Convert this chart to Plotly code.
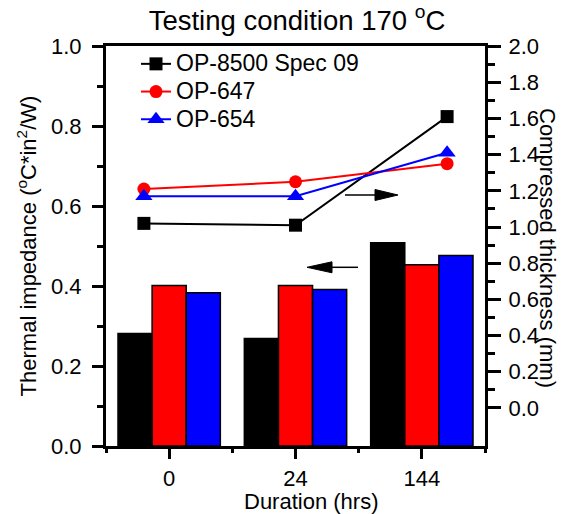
import plotly.graph_objects as go

# ---------------- data ----------------
durations = ["0", "24", "144"]
series_names = ["OP-8500 Spec 09", "OP-647", "OP-654"]
series_colors = ["#000000", "#FF0000", "#0000FF"]
series_symbols = ["square", "circle", "triangle-up"]

impedance_8500 = [0.281, 0.269, 0.508]
impedance_647 = [0.401, 0.401, 0.453]
impedance_654 = [0.383, 0.391, 0.476]

thickness_8500 = [1.02, 1.01, 1.61]
thickness_647 = [1.21, 1.25, 1.35]
thickness_654 = [1.17, 1.17, 1.41]

left_ticks = [0.0, 0.2, 0.4, 0.6, 0.8, 1.0]
left_minor = [0.1, 0.3, 0.5, 0.7, 0.9]
right_ticks = [0.0, 0.2, 0.4, 0.6, 0.8, 1.0, 1.2, 1.4, 1.6, 1.8, 2.0]
right_minor = [0.1, 0.3, 0.5, 0.7, 0.9, 1.1, 1.3, 1.5, 1.7, 1.9]

impedances = [impedance_8500, impedance_647, impedance_654]
thicknesses = [thickness_8500, thickness_647, thickness_654]

# ---------------- layout geometry (page pixels) ----------------
W, H = 564, 514
L, R, T, B = 106, 485, 46, 446   # plot area
FONT = "Arial, 'Liberation Sans', sans-serif"


def px(xp):
    return (xp - L) / (R - L)


def py(yp):
    return (B - yp) / (B - T)


xpos = list(range(len(durations)))
minor_x = [i - 0.5 for i in xpos] + [xpos[-1] + 0.5]

fig = go.Figure()

for name, col, vals in zip(series_names, series_colors, impedances):
    fig.add_trace(go.Bar(
        x=xpos, y=vals, name=name, showlegend=False,
        marker=dict(color=col, line=dict(color="#000000", width=1.5)),
        xaxis="x", yaxis="y",
    ))

for name, col, sym, vals in zip(series_names, series_colors, series_symbols, thicknesses):
    fig.add_trace(go.Scatter(
        x=xpos, y=vals,
        name=f'<span style="font-size:23px">{name}</span>',
        mode="lines+markers",
        line=dict(color=col, width=2),
        marker=dict(symbol=sym, size=13 if sym != "triangle-up" else 15, color=col),
        xaxis="x2", yaxis="y2",
    ))

axis_common = dict(
    showline=True, linecolor="#000000", linewidth=3,
    ticks="outside", tickcolor="#000000", tickwidth=2.5,
    showgrid=False, zeroline=False,
    tickfont=dict(family=FONT, size=22, color="#000000"),
)

fig.update_layout(
    width=W, height=H,
    margin=dict(l=L, r=W - R, t=T, b=H - B, pad=0),
    paper_bgcolor="white", plot_bgcolor="white",
    font=dict(family=FONT, size=22, color="#000000"),
    barmode="group", bargap=0.19, bargroupgap=0,
    title=dict(
        text="Testing condition 170 <sup>o</sup>C",
        x=297 / W, xanchor="center",
        y=1 - 20 / H, yanchor="middle",
        font=dict(family=FONT, size=27.5, color="#000000"),
    ),
    xaxis=dict(
        axis_common,
        range=[-0.5, len(durations) - 0.5],
        tickmode="array", tickvals=xpos, ticktext=durations, ticklen=10,
        ticklabelstandoff=1,
        mirror=True,
        minor=dict(tickmode="array", tickvals=minor_x, ticklen=4,
                   tickwidth=2.5, tickcolor="#000000", ticks="outside"),
    ),
    xaxis2=dict(
        overlaying="x", range=[-0.25, len(durations) - 0.75],
        visible=False,
    ),
    yaxis=dict(
        axis_common,
        range=[0, 1.0],
        tickmode="array", tickvals=left_ticks, tickformat=".1f", ticklen=11,
        ticklabelstandoff=6,
        minor=dict(tickmode="array", tickvals=left_minor, ticklen=6,
                   tickwidth=2.5, tickcolor="#000000", ticks="outside"),
        title=dict(text="Thermal impedance (<sup>o</sup>C*in<sup>2</sup>/W)",
                   font=dict(family=FONT, size=22, color="#000000"), standoff=9),
    ),
    yaxis2=dict(
        axis_common,
        overlaying="y", side="right",
        range=[-0.21, 2.0],
        tickmode="array", tickvals=right_ticks, tickformat=".1f", ticklen=13,
        ticklabelstandoff=3,
        minor=dict(tickmode="array", tickvals=right_minor, ticklen=7,
                   tickwidth=2.5, tickcolor="#000000", ticks="outside"),
    ),
    legend=dict(
        x=px(136), y=1.0025, xanchor="left", yanchor="top",
        bgcolor="rgba(0,0,0,0)", borderwidth=0,
        font=dict(family=FONT, size=19, color="#000000"),
        tracegroupgap=0,
    ),
    annotations=[
        dict(text="Duration (hrs)", xref="paper", yref="paper",
             x=px(311), y=py(501), xanchor="center", yanchor="middle",
             showarrow=False, font=dict(family=FONT, size=22, color="#000000")),
        dict(text="Compressed thickness (mm)", xref="paper", yref="paper",
             x=px(548), y=py(248), xanchor="center", yanchor="middle",
             textangle=90, showarrow=False,
             font=dict(family=FONT, size=22, color="#000000")),
    ],
    shapes=[
        # right-pointing arrow (lines -> right axis)
        dict(type="line", xref="paper", yref="paper",
             x0=px(345), x1=px(377), y0=py(195), y1=py(195),
             line=dict(color="#000000", width=1.5)),
        dict(type="path", xref="paper", yref="paper",
             path=f"M {px(375)} {py(189.5)} L {px(398)} {py(195)} L {px(375)} {py(200.5)} Z",
             fillcolor="#000000", line=dict(color="#000000", width=1)),
        # left-pointing arrow (bars -> left axis)
        dict(type="line", xref="paper", yref="paper",
             x0=px(330), x1=px(358), y0=py(267.3), y1=py(267.3),
             line=dict(color="#000000", width=1.5)),
        dict(type="path", xref="paper", yref="paper",
             path=f"M {px(332)} {py(261.8)} L {px(307)} {py(267.3)} L {px(332)} {py(272.8)} Z",
             fillcolor="#000000", line=dict(color="#000000", width=1)),
    ],
)

fig.write_html("out.html", config={"displayModeBar": False},
               post_script="document.body.style.margin='0px';")
